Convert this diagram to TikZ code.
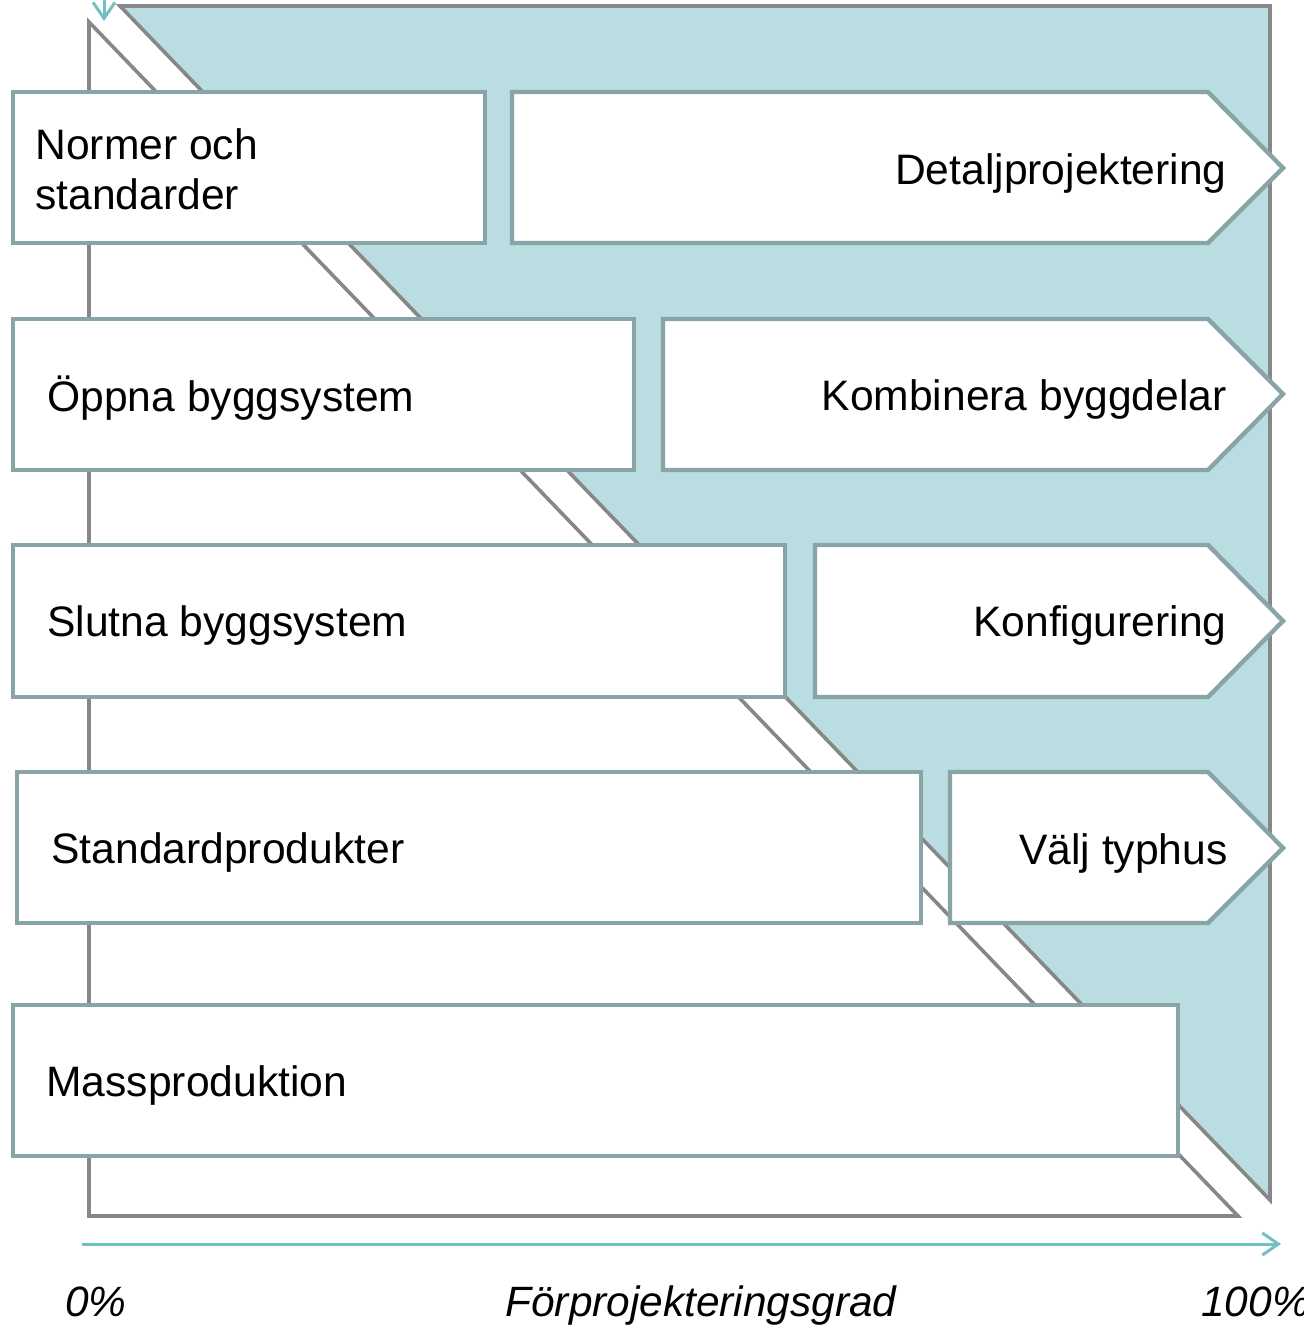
\documentclass[tikz,border=0pt]{standalone}
\usepackage{fontspec}
\setmainfont{Liberation Sans}
\usetikzlibrary{arrows.meta}
\definecolor{tealfill}{HTML}{B9DDE1}
\definecolor{grayline}{HTML}{878787}
\definecolor{boxborder}{HTML}{88A4A6}
\definecolor{arrowteal}{HTML}{70C0C6}
\begin{document}
\begin{tikzpicture}[x=0.5pt,y=-0.5pt,
  guide/.style={draw=grayline,line width=1.8pt,line join=miter},
  box/.style={draw=boxborder,fill=white,line width=2.2pt},
  lbl/.style={font=\fontsize{21.3}{25}\selectfont,inner sep=0pt},
  axlbl/.style={font=\fontsize{21.2}{25}\selectfont\itshape,inner sep=0pt,anchor=base},
  axisarrow/.style={draw=arrowteal,line width=1.5pt,-{Straight Barb[length=8pt,width=11pt]}}]
\useasboundingbox (0,0) rectangle (1303,1326);
% background triangle and shaded area
\draw[guide,fill=white] (89,22) -- (1238,1216) -- (89,1216) -- cycle;
\draw[guide,fill=tealfill] (120,6) -- (1270,6) -- (1270,1200) -- cycle;
% axis arrows
\coordinate (topA) at (104,-10);
\coordinate (topB) at (104,21);
\draw[axisarrow] (topA) -- (topB);
\coordinate (axA) at (82,1244);
\coordinate (axB) at (1281,1244);
\draw[axisarrow] (axA) -- (axB);
% left boxes
\draw[box] (13,92) rectangle (485,243);
\draw[box] (13,319) rectangle (634,470);
\draw[box] (13,545) rectangle (785,697);
\draw[box] (17,772) rectangle (921,923);
\draw[box] (13,1005) rectangle (1178,1156);
% right arrow boxes
\draw[box] (512,92) -- (1208,92) -- (1283,168) -- (1208,243) -- (512,243) -- cycle;
\draw[box] (663,319) -- (1208,319) -- (1283,394) -- (1208,470) -- (663,470) -- cycle;
\draw[box] (815,545) -- (1208,545) -- (1283,621) -- (1208,697) -- (815,697) -- cycle;
\draw[box] (950,772) -- (1208,772) -- (1283,848) -- (1208,923) -- (950,923) -- cycle;
% texts
\node[lbl,anchor=west,align=left] (l1) at (35,169) {Normer och\\standarder};
\node[lbl,anchor=west] (l2) at (47,398) {Öppna byggsystem};
\node[lbl,anchor=west] (l3) at (47,625) {Slutna byggsystem};
\node[lbl,anchor=west] (l4) at (51,852) {Standardprodukter};
\node[lbl,anchor=west] (l5) at (46,1085) {Massproduktion};
\node[lbl,anchor=east] (r1) at (1227,173) {Detaljprojektering};
\node[lbl,anchor=east] (r2) at (1227,399) {Kombinera byggdelar};
\node[lbl,anchor=east] (r3) at (1227,625) {Konfigurering};
\node[lbl,anchor=east] (r4) at (1228,853) {Välj typhus};
\node[axlbl] (p0) at (96,1316) {0\%};
\node[axlbl] (px) at (701,1316) {Förprojekteringsgrad};
\node[axlbl,anchor=base west] (p100) at (1201,1316) {100\%};
\end{tikzpicture}
\end{document}
